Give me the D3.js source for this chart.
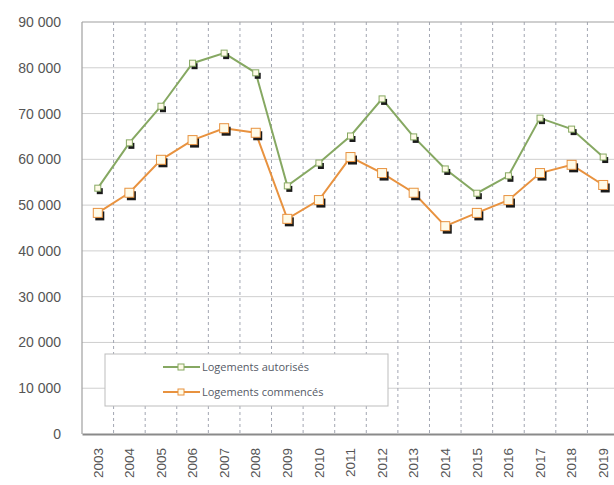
<!DOCTYPE html>
<html>
<head>
<meta charset="utf-8">
<script src="https://cdn.jsdelivr.net/npm/d3@7"></script>
<style>
  body { margin: 0; background: #fff; }
  svg { display: block; font-family: "Open Sans", "DejaVu Sans", sans-serif; }
</style>
</head>
<body>
<div id="chart"></div>
<script>
// Data.
const years = ['2003', '2004', '2005', '2006', '2007', '2008', '2009', '2010', '2011',
    '2012', '2013', '2014', '2015', '2016', '2017', '2018', '2019'];
const autorises = [53700, 63600, 71600, 81000, 83200, 78900, 54200, 59200, 65100,
    73200, 64900, 57900, 52600, 56400, 69000, 66600, 60500];
const commences = [48300, 52700, 59900, 64200, 66800, 65800, 47000, 51100, 60500,
    57000, 52700, 45400, 48300, 51100, 57000, 58800, 54400];
const yTicks = [0, 10000, 20000, 30000, 40000, 50000, 60000, 70000, 80000, 90000];
const seriesNames = ['Logements autorisés', 'Logements commencés'];

// Dimensions; the plot runs slightly past the right edge like the original.
const totalW = 614, totalH = 485;
const margin = {top: 22, right: -5, bottom: 51, left: 82};
const width = totalW - margin.left - margin.right;
const height = totalH - margin.top - margin.bottom;

const svg = d3.select('#chart')
    .append('svg')
        .attr('width', totalW)
        .attr('height', totalH)
    .append('g')
        .attr('transform', `translate(${margin.left},${margin.top})`);

const x = d3.scaleBand().domain(years).range([0, width]).padding(0);
const y = d3.scaleLinear().domain([0, 90000]).range([height, 0]);

// Horizontal gridlines.
svg.append('g')
    .selectAll('line')
    .data(yTicks.slice(1, -1))
    .enter()
    .append('line')
        .attr('x1', 0)
        .attr('x2', width)
        .attr('y1', d => y(d))
        .attr('y2', d => y(d))
        .attr('stroke', '#cfcfcf')
        .attr('stroke-width', 1);

// Vertical dashed gridlines between categories.
svg.append('g')
    .selectAll('line')
    .data(years.slice(1))
    .enter()
    .append('line')
        .attr('x1', d => x(d))
        .attr('x2', d => x(d))
        .attr('y1', 0)
        .attr('y2', height)
        .attr('stroke', '#a2a6b2')
        .attr('stroke-width', 1)
        .attr('stroke-dasharray', '3,3');

// Plot border: top and left.
svg.append('line')
    .attr('x1', 0).attr('x2', width)
    .attr('y1', 0).attr('y2', 0)
    .attr('stroke', '#a0a0a0')
    .attr('stroke-width', 1.2);
svg.append('line')
    .attr('x1', 0).attr('x2', 0)
    .attr('y1', 0).attr('y2', height)
    .attr('stroke', '#a0a0a0')
    .attr('stroke-width', 1.2);

// Y axis labels.
const yAxis = svg.append('g')
    .call(d3.axisLeft(y).tickValues(yTicks).tickSize(0).tickPadding(21)
        .tickFormat(d => d3.format(',')(d).replace(/,/g, ' ')));
yAxis.select('.domain').remove();
yAxis.selectAll('text')
    .style('font-size', '14px')
    .attr('fill', '#555');

// X axis.
const xAxis = svg.append('g')
    .attr('transform', `translate(0,${height})`)
    .call(d3.axisBottom(x).tickSize(0).tickPadding(0));
xAxis.select('.domain')
    .attr('stroke', '#8a8a8a')
    .attr('stroke-width', 2);
xAxis.selectAll('text')
    .style('font-size', '13.5px')
    .attr('fill', '#555')
    .attr('transform', 'translate(0,14)rotate(-90)')
    .attr('dy', '0.35em')
    .attr('x', 0)
    .attr('y', 0)
    .style('text-anchor', 'end');

// Legend box.
const legend = svg.append('g');
legend.append('rect')
    .attr('x', 105 - margin.left)
    .attr('y', 354 - margin.top)
    .attr('width', 283)
    .attr('height', 52)
    .attr('fill', '#fff')
    .attr('stroke', '#bdbdbd');

// Draws one series.
function drawSeries(values, color, markerSize) {
    const line = d3.line()
        .x((d, i) => x(years[i]) + x.bandwidth() / 2)
        .y(d => y(d));
    svg.append('path')
        .datum(values)
        .attr('d', line)
        .attr('fill', 'none')
        .attr('stroke', color)
        .attr('stroke-width', 2);
    const g = svg.append('g');
    // Dark shadow offset behind the marker.
    g.selectAll('rect.shadow')
        .data(values)
        .enter()
        .append('rect')
            .attr('class', 'shadow')
            .attr('x', (d, i) => x(years[i]) + x.bandwidth() / 2 - markerSize / 2 + 2)
            .attr('y', d => y(d) - markerSize / 2 + 3)
            .attr('width', markerSize)
            .attr('height', markerSize)
            .attr('fill', '#1a1a1a');
    g.selectAll('rect.marker')
        .data(values)
        .enter()
        .append('rect')
            .attr('class', 'marker')
            .attr('x', (d, i) => x(years[i]) + x.bandwidth() / 2 - markerSize / 2)
            .attr('y', d => y(d) - markerSize / 2)
            .attr('width', markerSize)
            .attr('height', markerSize)
            .attr('fill', '#fffbe8')
            .attr('stroke', color)
            .attr('stroke-width', 1);
}

drawSeries(autorises, '#86a862', 6);
drawSeries(commences, '#e8923f', 9);

// Legend entries.
const legendItems = [
    {name: seriesNames[0], color: '#86a862', y: 367},
    {name: seriesNames[1], color: '#e8923f', y: 392}
];
legendItems.forEach(item => {
    const ly = item.y - margin.top;
    legend.append('line')
        .attr('x1', 163 - margin.left)
        .attr('x2', 200 - margin.left)
        .attr('y1', ly)
        .attr('y2', ly)
        .attr('stroke', item.color)
        .attr('stroke-width', 2);
    legend.append('rect')
        .attr('x', 181 - margin.left - 3)
        .attr('y', ly - 3)
        .attr('width', 6)
        .attr('height', 6)
        .attr('fill', '#fffbe8')
        .attr('stroke', item.color);
    legend.append('text')
        .attr('x', 202 - margin.left)
        .attr('y', ly)
        .attr('dy', '0.35em')
        .style('font-size', '11px')
        .attr('fill', '#555a66')
        .text(item.name);
});
</script>
</body>
</html>
